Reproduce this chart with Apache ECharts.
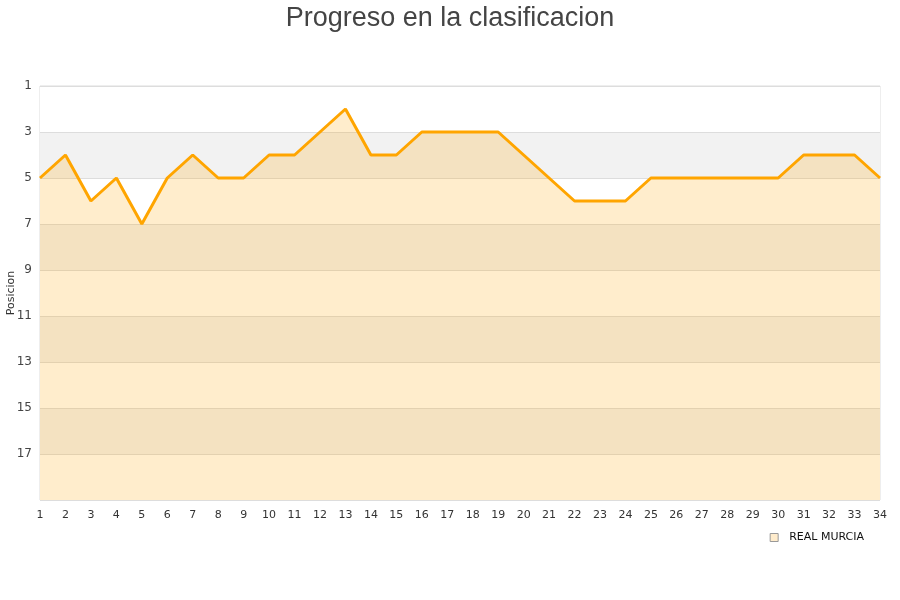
<!DOCTYPE html>
<html><head><meta charset="utf-8">
<script src="https://cdn.jsdelivr.net/npm/echarts@6/dist/echarts.min.js"></script>
<style>html,body{margin:0;padding:0;background:#fff}#c{width:900px;height:600px}</style>
</head><body><div id="c"></div>
<script>
const jornadas = ['1','2','3','4','5','6','7','8','9','10','11','12','13','14','15','16','17','18','19','20','21','22','23','24','25','26','27','28','29','30','31','32','33','34'];
const posiciones = [5,4,6,5,7,5,4,5,5,4,4,3,2,4,4,3,3,3,3,4,5,6,6,6,5,5,5,5,5,5,4,4,4,5];
const seriesName = 'REAL MURCIA';
const chartTitle = 'Progreso en la clasificacion';
const yName = 'Posicion';

const chart = echarts.init(document.getElementById('c'));
chart.setOption({
  animation: false,
  title: {text: chartTitle, left: 'center', top: 0,
    textStyle: {fontFamily: 'Liberation Sans', fontSize: 27, fontWeight: 'normal', color: '#444'}},
  grid: {left: 40, right: 20, top: 86, bottom: 100, containLabel: false, outerBoundsMode: 'none',
    show: true, borderColor: '#ddd', borderWidth: 1, backgroundColor: 'transparent'},
  legend: {right: 31, top: 527, itemWidth: 8, itemHeight: 8, icon: 'rect',
    textStyle: {fontFamily: 'DejaVu Sans', fontSize: 11, color: '#111', padding: [0, 0, 0, 6]},
    data: [{name: seriesName, itemStyle: {color: '#ffeccc', borderColor: '#999', borderWidth: 1}}]},
  xAxis: {type: 'category', data: jornadas, boundaryGap: false,
    axisLine: {show: false}, axisTick: {show: false},
    axisLabel: {fontFamily: 'DejaVu Sans', fontSize: 11, color: '#333', margin: 10}},
  yAxis: {type: 'value', inverse: true, min: 1, max: 19, interval: 2,
    name: yName, nameLocation: 'middle', nameGap: 23, nameRotate: 90, nameMoveOverlap: false,
    nameTextStyle: {fontFamily: 'DejaVu Sans', fontSize: 11, color: '#333'},
    axisLine: {show: false}, axisTick: {show: false},
    axisLabel: {fontFamily: 'DejaVu Sans', fontSize: 12, color: '#444', margin: 8,
      formatter: v => v === 19 ? '' : v},
    splitLine: {show: true, lineStyle: {color: '#ddd', width: 1}},
    splitArea: {show: true, areaStyle: {color: ['#ffffff', '#f2f2f2']}}},
  series: [{
    name: seriesName, type: 'line', data: posiciones, symbol: 'none',
    lineStyle: {color: '#ffa500', width: 3},
    itemStyle: {color: '#ffa500'},
    areaStyle: {color: 'rgba(255,165,0,0.2)', opacity: 1, origin: 'end'}
  }]
});
</script></body></html>
